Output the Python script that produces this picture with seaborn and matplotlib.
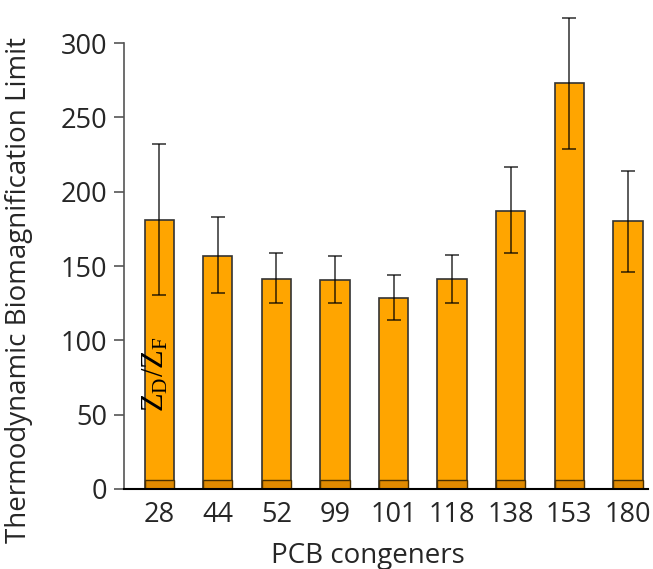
import matplotlib
matplotlib.use("Agg")
import matplotlib.pyplot as plt
import seaborn as sns
import numpy as np
import pandas as pd

congeners = ["28", "44", "52", "99", "101", "118", "138", "153", "180"]
bmf_limit = [181, 157, 141.5, 140.5, 128.5, 141, 187, 273, 180]
err_upper = [232, 183, 158.5, 156.7, 143.9, 157.2, 216.5, 317, 214]
err_lower = [130.5, 132, 124.9, 124.9, 113.7, 125.1, 158.7, 229, 146]
zd_zf = [6, 6, 6, 6, 6, 6, 6, 6, 6]

sns.set_theme(style="white")
plt.rcParams["font.family"] = ["Open Sans", "DejaVu Sans"]
plt.rcParams["mathtext.fontset"] = "custom"
plt.rcParams["mathtext.rm"] = "Liberation Serif"

df = pd.DataFrame({"congener": congeners, "value": bmf_limit,
                   "band": zd_zf, "lo": err_lower, "hi": err_upper})

fig = plt.figure(figsize=(6.53, 5.69), dpi=100)
ax = fig.add_axes([0.19, 0.1406, 0.802, 0.836])

sns.barplot(data=df, x="congener", y="value", order=congeners, color="#FFA500",
            width=0.5, edgecolor="#333333", linewidth=1.2, saturation=1,
            errorbar=None, ax=ax)
sns.barplot(data=df, x="congener", y="band", order=congeners, color="#E08A00",
            width=0.5, edgecolor="#4a3000", linewidth=1.0, saturation=1,
            errorbar=None, ax=ax)

xpos = np.arange(len(congeners))
vals = np.array(bmf_limit)
yerr = np.vstack([vals - np.array(err_lower), np.array(err_upper) - vals])
ax.errorbar(xpos, vals, yerr=yerr, fmt="none", ecolor="black", alpha=0.75,
            elinewidth=1.2, capsize=5, capthick=1.2, clip_on=False, zorder=5)

ax.text(-0.06, 77, r"$\mathrm{Z_D/Z_F}$", rotation=90, ha="center", va="center",
        fontsize=22, color="black")

ax.set_xlim(-0.6, 8.34)
ax.set_ylim(0, 320)
ax.set_yticks([0, 50, 100, 150, 200, 250, 300])
ax.spines["left"].set_bounds(0, 300)
ax.spines["top"].set_visible(False)
ax.spines["right"].set_visible(False)
ax.spines["left"].set_color("#555555")
ax.spines["left"].set_linewidth(1.2)
ax.spines["bottom"].set_color("black")
ax.spines["bottom"].set_linewidth(1.5)
ax.tick_params(axis="y", left=True, length=7, width=1.2, color="#555555",
               labelsize=19.5, pad=5)
ax.tick_params(axis="x", bottom=False, labelsize=19.5, pad=3)
ax.set_xlabel("PCB congeners", fontsize=20)
ax.set_ylabel("Thermodynamic Biomagnification Limit", fontsize=20)
ax.xaxis.set_label_coords(0.466, -0.112)
ax.yaxis.set_label_coords(-0.174, 0.418)

fig.savefig("out.png", dpi=100)
